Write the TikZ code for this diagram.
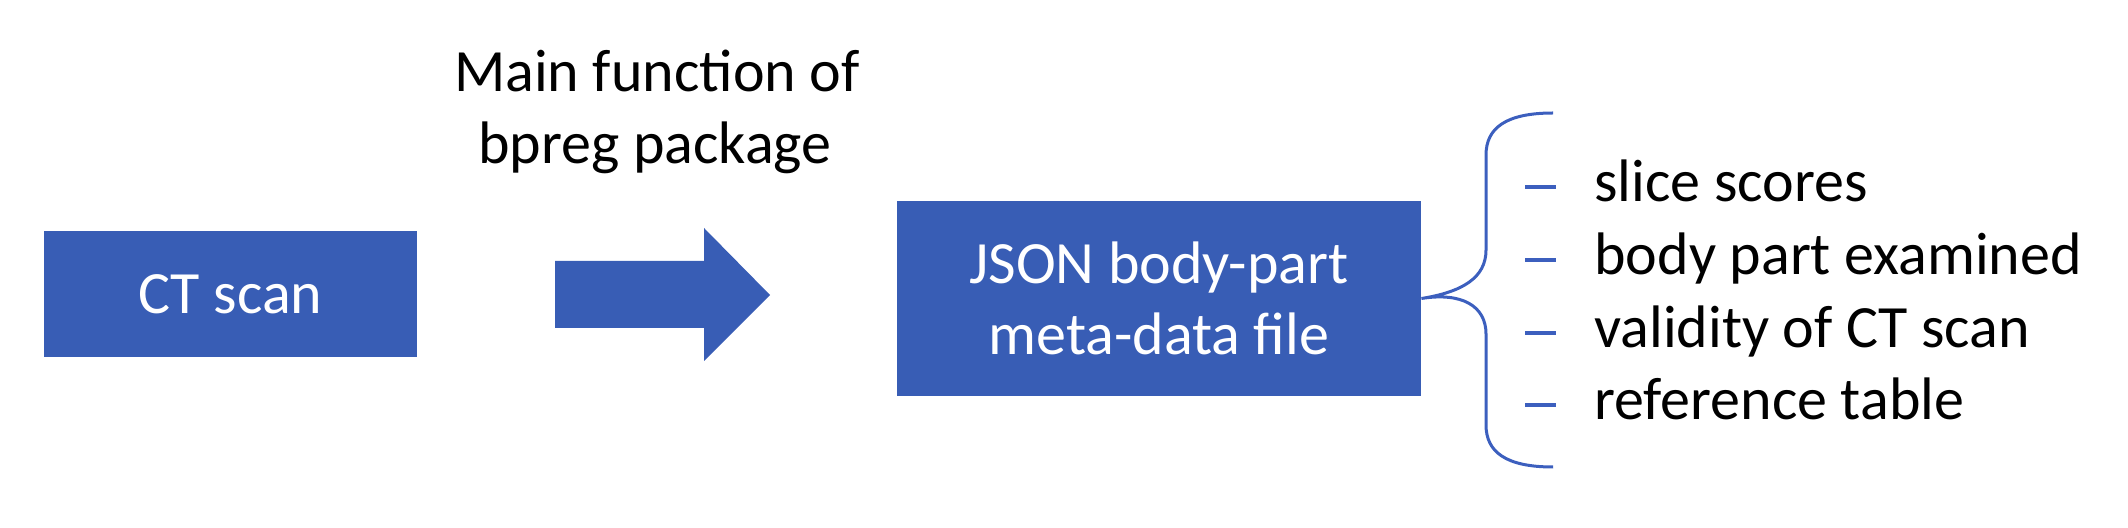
\documentclass[tikz,border=0pt]{standalone}
\usepackage{fontspec}
\setmainfont{Carlito}
\definecolor{boxblue}{RGB}{56,93,181}
\definecolor{lineblue}{RGB}{60,95,190}
\begin{document}
\begin{tikzpicture}[x=0.5pt,y=-0.5pt,
  bluebox/.style={draw=none,fill=boxblue,text=white,inner sep=0pt,align=center,
    font=\fontsize{30pt}{35.5pt}\selectfont},
  lbl/.style={inner sep=0pt,anchor=base,font=\fontsize{30pt}{35.5pt}\selectfont},
  item/.style={inner sep=0pt,anchor=base west,font=\fontsize{30pt}{35.5pt}\selectfont},
  dashline/.style={draw=lineblue,line width=1.6pt},
  bracestyle/.style={draw=lineblue,line width=1.5pt}]
\useasboundingbox (0,0) rectangle (2128,528);
% boxes
\node[bluebox,minimum width=186.5pt,minimum height=63pt] (ct) at (230.5,294) {CT scan};
\node[bluebox,minimum width=262pt,minimum height=97.5pt] (json) at (1159,298.5) {JSON body-part\\meta-data file};
% big arrow
\fill[boxblue] (555,261) -- (704,261) -- (704,228) -- (770,295) -- (704,361) -- (704,328) -- (555,328) -- cycle;
\node[lbl] (t1) at (657,92) {Main function of};
\node[lbl] (t2) at (655,164) {bpreg package};
% brace
\coordinate (tip) at (json.east);
\draw[bracestyle] (1553,113) .. controls (1506,113) and (1486,128) .. (1486,155) -- (1486,250)
   .. controls (1486,278) and (1462,292) .. (tip)
   .. controls (1462,292) and (1486,306) .. (1486,334) -- (1486,425)
   .. controls (1486,452) and (1506,467) .. (1553,467);
% items
\foreach \y/\t [count=\i] in {202/slice scores,275/body part examined,348/validity of CT scan,420/reference table}{
  \node[item] (it\i) at (1594,\y) {\t};
  \draw[dashline] (1525,\y-15) -- (1556,\y-15);
}
\end{tikzpicture}
\end{document}
